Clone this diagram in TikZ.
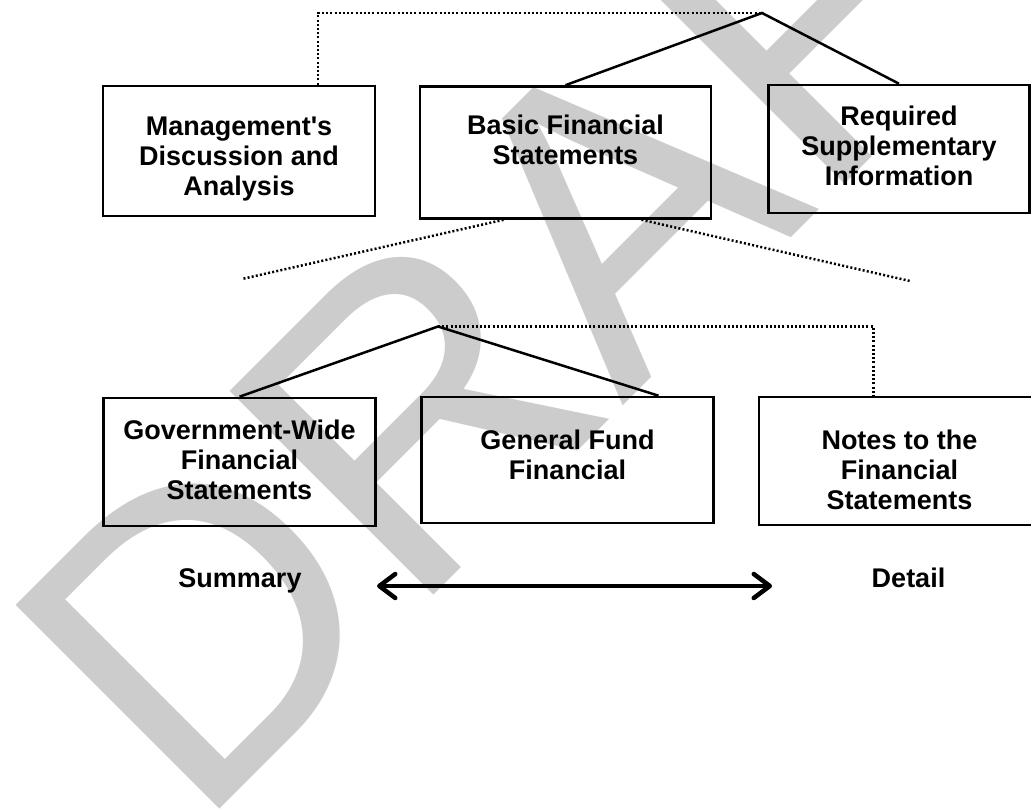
\documentclass[tikz,border=0pt]{standalone}
\usepackage{fontspec}
\setmainfont{Liberation Sans}
\usetikzlibrary{positioning,arrows.meta}

\begin{document}
\begin{tikzpicture}[x=1pt,y=-1pt,
		box/.style={draw, line width=2.6pt, inner sep=0pt, minimum width=272pt, minimum height=130pt},
		boxtext/.style={align=center, inner sep=0pt, font=\bfseries\fontsize{27}{30}\selectfont},
		link/.style={line width=2.5pt},
		dotlink/.style={line width=2.5pt, dash pattern=on 2pt off 2.2pt},
		watermark/.style={text=black!20, inner sep=0pt, anchor=base west, rotate=45, font=\fontsize{419}{419}\selectfont}]
	\useasboundingbox (0,0) rectangle (1031,810);
	% watermark goes behind everything
	\node[watermark] (draft) at (195,834) {DRAFT};
	%
	\node[box] (mda) at (239,151) {};
	\node[box, minimum width=291pt, minimum height=132pt] (bfs) at (565.5,152.5) {};
	\node[box, minimum width=261pt, minimum height=128pt] (rsi) at (899,149) {};
	\node[box, minimum height=128pt] (gw) at (239.5,462) {};
	\node[box, minimum width=292pt, minimum height=126pt] (gf) at (567.5,460) {};
	\node[box, minimum width=281pt, minimum height=128pt] (nfs) at (899.5,461) {};
	%
	\node[boxtext, below=32pt of mda.north] (mda-t) {Management\textquotesingle s\\Discussion and\\Analysis};
	\node[boxtext, below=30pt of bfs.north] (bfs-t) {Basic Financial\\Statements};
	\node[boxtext, below=22pt of rsi.north] (rsi-t) {Required\\Supplementary\\Information};
	\node[boxtext, below=23pt of gw.north] (gw-t) {Government-Wide\\Financial\\Statements};
	\node[boxtext, below=34pt of gf.north] (gf-t) {General Fund\\Financial};
	\node[boxtext, below=34pt of nfs.north] (nfs-t) {Notes to the\\Financial\\Statements};
	\node[boxtext, anchor=base] (summary) at (240,587) {Summary};
	\node[boxtext, anchor=base] (detail) at (908.5,587) {Detail};
	%
	\coordinate (top) at (762,13);
	\coordinate (sub) at (438,326.5);
	\coordinate (leftend) at (242,279);
	\coordinate (rightend) at (910,281);
	\coordinate (sumend) at (377,586);
	\coordinate (detend) at (772,586);
	%
	\draw[link] (bfs.north) -- (top) -- (rsi.north);
	\draw[dotlink] ([xshift=79pt]mda.north) |- (top);
	\draw[dotlink] ([xshift=-62pt]bfs.south) -- (leftend);
	\draw[dotlink] ([xshift=76pt]bfs.south) -- (rightend);
	\draw[link] (gw.north) -- (sub) -- ([xshift=91pt]gf.north);
	\draw[dotlink] (sub) -| ([xshift=-26pt]nfs.north);
	\draw[line width=4.5pt, {Straight Barb[round,length=16pt,width=24pt]}-{Straight Barb[round,length=16pt,width=24pt]}] (sumend) -- (detend);
\end{tikzpicture}
\end{document}
